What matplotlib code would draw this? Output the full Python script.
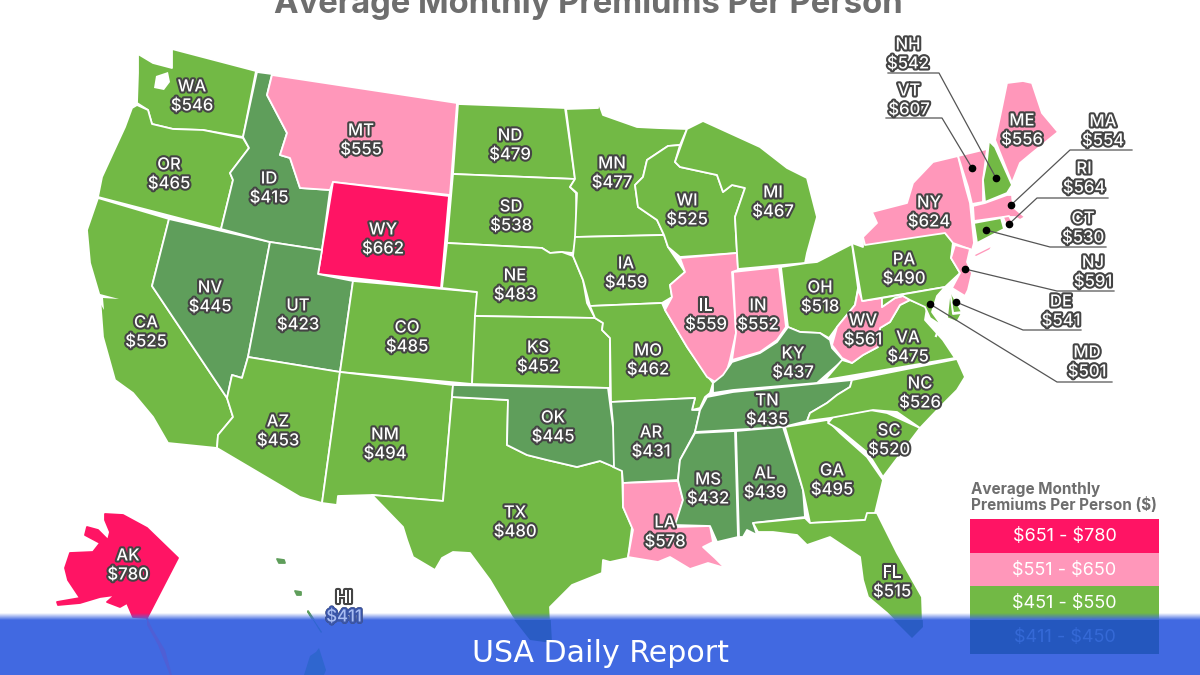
import numpy as np
import matplotlib
matplotlib.use("agg")
import matplotlib.pyplot as plt
import matplotlib.patheffects as pe
from matplotlib.patches import Polygon, Rectangle

# values
states = ["WA", "OR", "CA", "NV", "ID", "MT", "WY", "UT", "AZ", "NM", "CO", "ND", "SD", "NE", "KS", "OK", "TX",
          "MN", "IA", "MO", "AR", "LA", "WI", "IL", "IN", "MI", "OH", "KY", "TN", "MS", "AL", "GA", "SC", "NC",
          "FL", "VA", "WV", "PA", "NY", "ME", "NH", "VT", "MA", "RI", "CT", "NJ", "DE", "MD", "AK", "HI"]
premiums = [546, 465, 525, 445, 415, 555, 662, 423, 453, 494, 485, 479, 538, 483, 452, 445, 480,
            477, 459, 462, 431, 578, 525, 559, 552, 467, 518, 437, 435, 432, 439, 495, 520, 526,
            515, 475, 561, 490, 624, 556, 542, 607, 554, 564, 530, 591, 541, 501, 780, 411]

legend_labels = ["$651 - $780", "$551 - $650", "$451 - $550", "$411 - $450"]
legend_floor = [651, 551, 451, 411]
legend_colors = ["#FF1464", "#FF97BA", "#72B945", "#5F9E5B"]

# outlines, in picture pixels
outlines = {
    "WA": [(172,49),(256,71),(243,137),(203,130),(173,129),(152,124),(148,110),(137,103),(138,73),(138,54),(153,63),(172,68)],
    "OR": [(137,105),(148,110),(152,124),(173,129),(203,130),(243,138),(249,148),(230,173),(233,180),(221,229),(98,197),(102,177),(113,153),(125,127),(132,108)],
    "CA": [(98,198),(169,219),(152,286),(227,398),(233,417),(218,435),(217,448),(168,443),(153,417),(133,393),(115,380),(103,337),(100,297),(90,263),(87,230)],
    "NV": [(169,219),(270,242),(248,357),(242,378),(232,375),(227,398),(152,286)],
    "ID": [(257,72),(272,74),(267,95),(287,133),(280,155),(290,158),(300,188),(330,190),(322,250),(270,242),(221,229),(233,180),(230,173),(249,148),(243,137)],
    "MT": [(272,75),(457,103),(450,195),(333,182),(330,190),(300,188),(290,158),(280,155),(287,133),(267,95)],
    "WY": [(333,182),(449,196),(441,288),(318,274)],
    "UT": [(270,242),(322,250),(318,274),(353,281),(340,372),(248,357)],
    "CO": [(353,281),(477,292),(472,384),(340,372)],
    "AZ": [(248,357),(340,372),(322,503),(300,497),(217,448),(218,435),(233,417),(227,398),(232,375),(242,378)],
    "NM": [(340,372),(453,385),(443,501),(372,495),(338,496),(337,505),(322,503)],
    "TX": [(452,397),(508,400),(507,445),(527,455),(547,460),(577,467),(600,461),(622,470),(623,507),(632,527),(628,558),(610,562),(603,560),(602,573),(572,585),(557,600),(550,607),(552,643),(530,640),(512,617),(490,580),(470,553),(453,552),(442,558),(435,570),(413,557),(407,540),(403,527),(372,495),(443,501)],
    "ND": [(458,104),(565,108),(575,179),(453,174)],
    "SD": [(453,174),(575,179),(570,187),(576,193),(577,236),(573,253),(562,252),(550,253),(542,248),(447,243)],
    "NE": [(447,243),(542,248),(550,253),(562,252),(573,256),(583,280),(587,303),(595,318),(475,316),(477,292),(442,288)],
    "KS": [(475,316),(595,318),(603,323),(602,330),(610,338),(610,388),(472,384)],
    "MN": [(566,109),(598,108),(598,101),(603,115),(637,127),(657,128),(687,129),(680,145),(668,146),(647,160),(643,177),(635,185),(638,207),(657,220),(664,235),(575,237),(577,193),(570,187),(575,179)],
    "IA": [(575,237),(664,235),(668,247),(685,272),(670,285),(672,297),(662,303),(590,306),(583,280),(573,256)],
    "MO": [(590,306),(662,303),(665,310),(687,347),(705,373),(713,383),(710,393),(705,397),(700,408),(692,410),(695,398),(611,402),(610,338),(602,330),(603,323),(595,318)],
    "AR": [(611,402),(695,398),(692,410),(700,410),(695,432),(680,460),(678,480),(623,483),(622,471),(613,467),(613,423)],
    "OK": [(453,385),(608,388),(613,427),(614,467),(600,461),(577,467),(547,460),(527,455),(507,445),(508,400),(452,397)],
    "LA": [(623,483),(678,481),(683,500),(675,527),(710,526),(713,542),(703,547),(715,558),(725,568),(708,563),(690,569),(670,557),(658,562),(628,557),(633,530),(623,507)],
    "WI": [(680,145),(675,162),(680,167),(717,175),(723,192),(732,185),(745,188),(735,217),(737,253),(680,257),(668,247),(664,235),(657,220),(638,207),(635,185),(643,177),(647,160),(668,146)],
    "IL": [(680,258),(737,253),(738,270),(732,272),(736,333),(730,360),(725,377),(717,383),(707,377),(687,347),(665,310),(672,297),(670,285),(685,272)],
    "IN": [(733,272),(779,267),(786,327),(777,340),(760,352),(732,360),(736,333)],
    "MI": [(687,129),(703,121),(760,147),(787,168),(807,178),(817,217),(807,253),(805,263),(738,269),(737,253),(735,217),(745,188),(732,185),(723,192),(717,175),(680,167),(675,162)],
    "OH": [(781,267),(807,263),(817,262),(852,244),(858,288),(855,305),(837,327),(829,338),(820,333),(800,332),(788,327)],
    "KY": [(713,393),(733,390),(817,383),(843,360),(832,348),(830,340),(820,333),(800,332),(788,327),(777,342),(760,353),(732,362),(723,375),(713,383)],
    "TN": [(707,397),(733,392),(852,380),(850,387),(837,395),(827,403),(810,413),(807,421),(783,427),(695,432),(700,410)],
    "MS": [(695,433),(735,431),(738,537),(717,542),(710,526),(675,525),(683,500),(678,480),(680,460)],
    "AL": [(736,431),(783,427),(803,490),(805,517),(753,523),(757,535),(747,530),(743,537),(739,537)],
    "GA": [(785,427),(827,420),(840,433),(867,457),(883,480),(875,513),(865,520),(810,523),(803,490)],
    "SC": [(828,423),(833,417),(870,410),(887,413),(920,428),(883,477),(868,453),(840,430)],
    "NC": [(852,380),(957,359),(965,377),(957,390),(940,407),(920,428),(897,412),(873,410),(830,418),(807,421),(810,413),(827,403),(837,395),(850,387)],
    "FL": [(753,523),(805,518),(810,523),(865,520),(867,513),(877,513),(897,553),(922,597),(923,627),(912,638),(887,613),(868,597),(863,580),(860,557),(830,537),(807,545),(797,535),(773,532),(758,532)],
    "VA": [(910,300),(927,307),(925,320),(943,340),(955,358),(825,380),(842,360),(852,363),(863,355),(878,347),(880,328),(890,322),(900,305)],
    "WV": [(858,290),(863,301),(882,298),(882,307),(895,298),(903,296),(910,300),(900,305),(890,322),(880,328),(878,347),(863,355),(852,363),(842,358),(832,345),(837,327),(855,305)],
    "PA": [(852,243),(863,247),(863,237),(945,233),(953,242),(951,258),(960,273),(945,287),(862,301)],
    "NY": [(865,245),(863,237),(877,223),(872,212),(907,203),(913,183),(933,162),(958,156),(965,185),(970,203),(974,243),(972,250),(953,243),(945,233)],
    "LI": [(973,255),(993,245),(990,250),(976,257)],
    "VT": [(958,156),(987,149),(983,180),(983,202),(972,204),(968,187)],
    "NH": [(989,141),(995,147),(1012,185),(1007,193),(985,202),(983,180),(987,160)],
    "ME": [(995,140),(1000,117),(1007,83),(1023,81),(1032,83),(1042,113),(1058,132),(1032,153),(1020,163),(1012,183)],
    "MA": [(973,206),(985,203),(1007,195),(1012,195),(1013,207),(1025,217),(1020,220),(1015,217),(1003,217),(974,221)],
    "RI": [(1003,217),(1009,216),(1013,223),(1007,227)],
    "CT": [(974,223),(1001,218),(1004,229),(977,243)],
    "NJ": [(955,245),(970,249),(967,262),(972,273),(968,290),(965,296),(952,288),(960,273),(951,258)],
    "DE": [(948,287),(962,312),(953,313)],
    "MD": [(882,298),(945,287),(937,296),(932,312),(942,326),(930,318),(925,307),(910,300),(903,296),(895,298),(882,307)],
    "MD2": [(950,290),(953,314),(962,313),(957,322),(947,318)],
    "AK": [(105,514),(123,515),(147,528),(178,558),(147,618),(133,617),(127,603),(120,607),(107,602),(115,595),(100,597),(80,603),(58,605),(57,602),(80,598),(68,580),(65,568),(70,553),(93,552),(100,543),(85,535),(87,527),(98,530),(108,540),(110,532),(105,520)],
    "AK2": [(147,618),(153,630),(165,650),(172,675),(170,675),(158,645),(147,625)],
    "HI1": [(277,559),(284,560),(285,563),(279,563)],
    "HI2": [(295,591),(301,592),(301,595),(297,595)],
    "HI3": [(308,611),(322,632),(321,633),(308,612)],
    "HI4": [(304,675),(310,656),(316,652),(319,648),(326,670),(324,675)],
}
parts_of = {"LI": "NY", "MD2": "MD", "AK2": "AK", "HI1": "HI", "HI2": "HI", "HI3": "HI", "HI4": "HI"}

# label centre of the state code, picture pixels
label_pos = {
    "WA": (192,87), "OR": (169,165), "CA": (146,323), "NV": (210,288), "ID": (269,179), "MT": (361,131),
    "WY": (383,230), "UT": (298,306), "AZ": (278,422), "NM": (385,435), "CO": (407,328), "ND": (510,136),
    "SD": (511,207), "NE": (515,276), "KS": (538,348), "OK": (553,418), "TX": (515,513), "MN": (612,164),
    "IA": (626,264), "MO": (648,351), "AR": (651,433), "LA": (665,523), "WI": (687,201), "IL": (706,306),
    "IN": (758,306), "MI": (773,193), "OH": (820,288), "KY": (793,354), "TN": (767,401), "MS": (708,480),
    "AL": (765,474), "GA": (832,471), "SC": (889,431), "NC": (920,384), "FL": (892,573), "VA": (908,338),
    "WV": (863,321), "PA": (904,260), "NY": (929,203), "ME": (1022,121), "NH": (908,45), "VT": (909,91),
    "MA": (1103,122), "RI": (1084,169), "CT": (1083,219), "NJ": (1093,263), "DE": (1061,302), "MD": (1087,353),
    "AK": (128,556), "HI": (344,598),
}

# leader lines: dot, elbow, end of underline
leaders = {
    "NH": [(996,178),(939,73),(888,73)], "VT": [(972,168),(942,118),(886,118)],
    "MA": [(1011,205),(1070,150),(1132,150)], "RI": [(1009,224),(1037,198),(1108,198)],
    "CT": [(986,230),(1050,247),(1106,247)], "NJ": [(965,269),(1057,291),(1114,291)],
    "DE": [(956,302),(1023,330),(1081,330)], "MD": [(930,304),(1057,382),(1112,382)],
}

value_of = dict(zip(states, premiums))
BLUE = "#4169E1"


def bucket(v):
    for floor, col in zip(legend_floor, legend_colors):
        if v >= floor:
            return col
    return legend_colors[-1]


def under_band(col):
    # how the colours show through the banner
    return {"#FF1464": "#6B3CC0", "#5F9E5B": "#2F66CF"}.get(col, "#2A5CC4")


fig = plt.figure(figsize=(12, 6.75), dpi=100, facecolor="white")
ax = fig.add_axes([0, 0, 1, 1])
ax.axis("off")

band_clip = Rectangle((0, 619.5), 1200, 56, transform=ax.transData)

for name, pts in outlines.items():
    col = bucket(value_of[parts_of.get(name, name)])
    edge = "white" if name[:2] not in ("HI", "AK") else col
    ax.add_patch(Polygon(pts, closed=True, facecolor=col, edgecolor=edge, lw=1.3, joinstyle="round", zorder=2))
    if name in ("TX", "FL", "AK", "HI3", "HI4"):
        p = Polygon(pts, closed=True, facecolor=under_band(col), edgecolor="none", zorder=7)
        ax.add_patch(p)
        p.set_clip_path(band_clip)
    if name == "AK2":
        p = Polygon(pts, closed=True, facecolor="#4F5FD5", edgecolor="none", zorder=7)
        ax.add_patch(p)

# water cut into the coast
ax.add_patch(Polygon([(156,76),(168,72),(170,82),(164,90),(154,88)], closed=True, fc="white", ec="none", zorder=3))
ax.add_patch(Polygon([(100,294),(119,299),(103,298),(104,310),(100,303)], closed=True, fc="white", ec="none", zorder=3))
ax.plot([945,938,943,936], [290,300,318,336], color="white", lw=1.6, zorder=3)

for name, pts in leaders.items():
    xs, ys = zip(*pts)
    ax.plot(xs, ys, color="#555555", lw=0.9, zorder=4)
    ax.plot(xs[0], ys[0], "o", color="black", ms=4.5, zorder=4)

outline_fx = [pe.withStroke(linewidth=3.0, foreground="#444444")]
for st in states:
    x, y = label_pos[st]
    for dy, s in ((0, st), (19, "$%d" % value_of[st])):
        ax.text(x, y + dy, s, ha="center", va="center", fontsize=12, family="Inter", fontweight="medium",
                color="white", path_effects=outline_fx, zorder=6, parse_math=False)

# the HI value sinks into the banner
hi_x, hi_y = label_pos["HI"]
hi_tint = ax.text(hi_x, hi_y + 19, "$%d" % value_of["HI"], ha="center", va="center", fontsize=12, family="Inter",
                  fontweight="medium", color="#A9BDF2", parse_math=False, zorder=8,
                  path_effects=[pe.withStroke(linewidth=3.0, foreground="#3A55A8")])
hi_tint.set_clip_path(Rectangle((0, 617), 1200, 58, transform=ax.transData))

# cut off at the top edge in the reference too
ax.text(588, 3.5, "Average Monthly Premiums Per Person", ha="center", va="center", fontsize=23.7, family="Inter",
        fontweight="bold", color="#6E6E6E", zorder=6)

# legend
ax.text(971, 489.5, "Average Monthly", ha="left", va="center", fontsize=11, family="Inter", fontweight="bold", color="#6E6E6E")
ax.text(971, 505.5, "Premiums Per Person ($)", ha="left", va="center", fontsize=11, family="Inter", fontweight="bold",
        color="#6E6E6E", parse_math=False)
for i, (lab, col) in enumerate(zip(legend_labels, legend_colors)):
    top = 519 + i * 33.7
    ax.add_patch(Rectangle((970, top), 189, 33.7, facecolor=col, edgecolor="none", zorder=2))
    if i < 3:
        ax.text(1064.5, top + 17.5, lab, ha="center", va="center", fontsize=13, family="Inter", color="white",
                zorder=3, parse_math=False)
ax.add_patch(Rectangle((970, 619.5), 189, 34, facecolor="#2457BE", edgecolor="none", zorder=7))
ax.text(1064.5, 637, legend_labels[3], ha="center", va="center", fontsize=13, family="Inter", color="#3569D6",
        zorder=8, parse_math=False)

# banner with a soft top edge
rgb = matplotlib.colors.to_rgb(BLUE)
fade = np.linspace(0, 1, 64).reshape(-1, 1)
img = np.dstack([np.full_like(fade, c) for c in rgb] + [fade])
ax.imshow(img, extent=(0, 1200, 620, 613), aspect="auto", zorder=5, interpolation="bilinear")
ax.add_patch(Rectangle((0, 620), 1200, 56, facecolor=BLUE, edgecolor="none", zorder=5))
ax.text(600, 653, "USA Daily Report", ha="center", va="center", fontsize=21.6, color="white", zorder=9)

ax.set_xlim(0, 1200)
ax.set_ylim(675, 0)

fig.savefig("out.png", dpi=100)
